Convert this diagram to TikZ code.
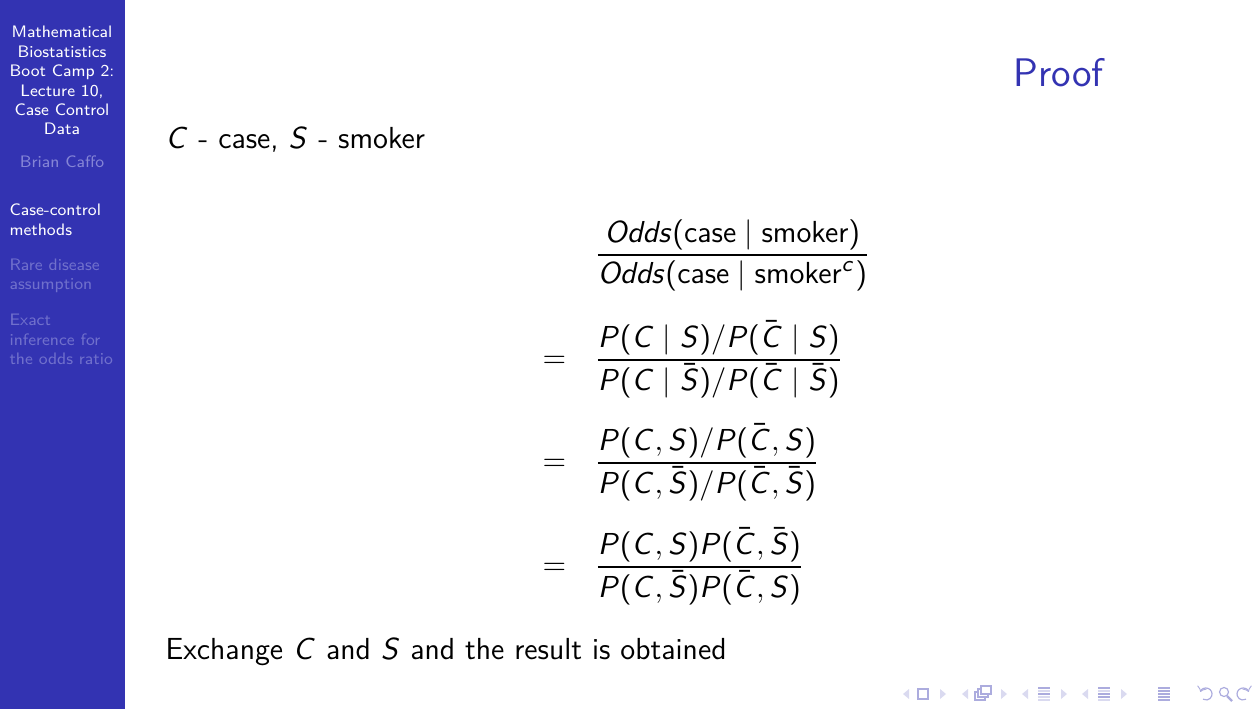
\documentclass[tikz,border=0pt]{standalone}
\usepackage{amsmath}
% sans serif math, the way beamer sets it
\DeclareSymbolFont{operators}{OT1}{cmss}{m}{n}
\DeclareSymbolFont{sfitletters}{OT1}{cmss}{m}{sl}
\newcount\lettercnt
\lettercnt=`A
\loop
  \mathcode\lettercnt=\numexpr"7000+\symsfitletters*"100+\lettercnt\relax
  \advance\lettercnt by 1
\ifnum\lettercnt<\numexpr`Z+1\relax \repeat
\lettercnt=`a
\loop
  \mathcode\lettercnt=\numexpr"7000+\symsfitletters*"100+\lettercnt\relax
  \advance\lettercnt by 1
\ifnum\lettercnt<\numexpr`z+1\relax \repeat
\definecolor{sidebarblue}{RGB}{51,51,178}
\definecolor{authorblue}{RGB}{133,133,214}
\definecolor{shadedblue}{RGB}{112,112,204}
\definecolor{navlight}{RGB}{218,218,240}
\definecolor{navdark}{RGB}{172,172,222}
\begin{document}
\begin{tikzpicture}[x=0.12698mm, y=-0.12698mm]
    \tikzset{sidetitle/.style = {anchor=base, inner sep=0pt, text=white, font=\sffamily\fontsize{6}{7}\selectfont}}
    \tikzset{sidesec/.style = {anchor=base west, inner sep=0pt, font=\sffamily\fontsize{6}{7}\selectfont}}
    \tikzset{body/.style = {anchor=base west, inner sep=0pt, font=\sffamily\fontsize{11}{13.6}\selectfont}}
    \tikzset{navtri/.style = {fill=navlight, draw=none}}
    \tikzset{navline/.style = {navdark, line width=0.15mm}}
    \useasboundingbox (0,0) rectangle (1260,709);
    \fill[sidebarblue] (0,0) rectangle (125,709);
    % sidebar
    \foreach \txt [count=\i] in {Mathematical, Biostatistics, Boot Camp 2:, {Lecture 10,}, Case Control, Data}
        \node[sidetitle] (title\i) at (62,{38+(\i-1)*19.4}) {\txt};
    \node[sidetitle, text=authorblue] (author) at (62,168) {Brian Caffo};
    \node[sidesec, text=white] (sec1a) at (9,216) {Case-control};
    \node[sidesec, text=white] (sec1b) at (9,236) {methods};
    \node[sidesec, text=shadedblue] (sec2a) at (9,271) {Rare disease};
    \node[sidesec, text=shadedblue] (sec2b) at (9,290) {assumption};
    \node[sidesec, text=shadedblue] (sec3a) at (9,326) {Exact};
    \node[sidesec, text=shadedblue] (sec3b) at (9,345) {inference for};
    \node[sidesec, text=shadedblue] (sec3c) at (9,364) {the odds ratio};
    % frame
    \node[anchor=base west, inner sep=0pt, text=sidebarblue, font=\sffamily\fontsize{14.4}{17}\selectfont] (proof) at (1013,87) {Proof};
    \node[body] (intro) at (165,149) {$C$ - case, $S$ - smoker};
    \node[body] (row1) at (594,262.6) {$\displaystyle \frac{Odds(\text{case} \mid \text{smoker})}{Odds(\text{case} \mid \text{smoker}^c)}$};
    \node[body] (eq2) at (542,367.6) {$=$};
    \node[body] (row2) at (594,367.6) {$\displaystyle \frac{P(C \mid S) / P(\bar C \mid S)}{P(C \mid \bar S) / P(\bar C \mid \bar S)}$};
    \node[body] (eq3) at (542,470.6) {$=$};
    \node[body] (row3) at (594,470.6) {$\displaystyle \frac{P(C, S) / P(\bar C, S)}{P(C, \bar S) / P(\bar C, \bar S)}$};
    \node[body] (eq4) at (542,574.6) {$=$};
    \node[body] (row4) at (594,574.6) {$\displaystyle \frac{P(C, S) P(\bar C, \bar S)}{P(C, \bar S) P(\bar C, S)}$};
    \node[body] (outro) at (165,659) {Exchange $C$ and $S$ and the result is obtained};
    % navigation symbols
    \foreach \xl/\xr in {903/940, 962/1001, 1022/1061, 1082/1121} {
        \fill[navtri] (\xl,694) -- (\xl+6,689) -- (\xl+6,699) -- cycle;
        \fill[navtri] (\xr+6,694) -- (\xr,689) -- (\xr,699) -- cycle;
    }
    \draw[navline] (918,689) rectangle (928,699);
    \draw[navline] (975,692) rectangle (985,700);
    \draw[navline, fill=white] (978,689) rectangle (988,697);
    \draw[navline, fill=white] (981,686) rectangle (991,694);
    \foreach \y/\c in {688/navdark, 691/navlight, 694/navdark, 697/navlight, 700/navlight}
        \fill[\c] (1038,\y-1) rectangle (1050,\y+1);
    \foreach \y/\c in {688/navdark, 691/navlight, 694/navdark, 697/navdark, 700/navlight}
        \fill[\c] (1098,\y-1) rectangle (1110,\y+1);
    \foreach \y in {688,691,694,697,700}
        \fill[navdark] (1158,\y-1) rectangle (1170,\y+1);
    \draw[navline, <-] ([shift={(1206,694)}]200:6) arc[start angle=200, end angle=480, radius=6];
    \draw[navline] (1224,692) circle[radius=4.5];
    \draw[navline, line width=0.3mm] (1227,696) -- (1232,701);
    \draw[navline, <-] ([shift={(1243,694)}]-20:6) arc[start angle=-20, end angle=-300, radius=6];
\end{tikzpicture}
\end{document}
